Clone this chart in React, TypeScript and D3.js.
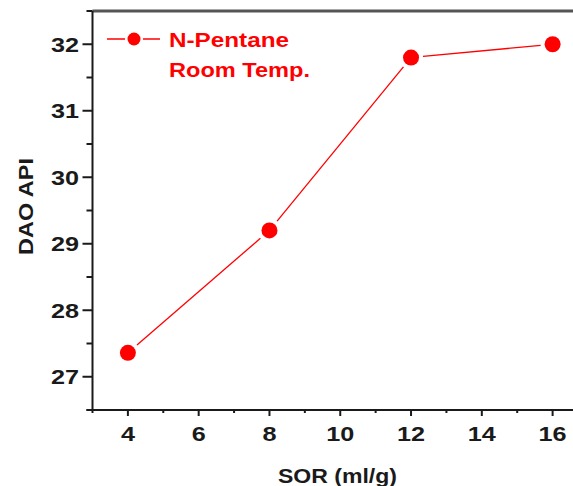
import React, { useEffect, useRef } from "react";
import * as d3 from "d3";

// SOR (ml/g) vs DAO API, N-Pentane at room temperature
const sor = [4, 8, 12, 16];
const daoApi = [27.36, 29.2, 31.8, 32.0];
const xTicks = [4, 6, 8, 10, 12, 14, 16];
const yTicks = [27, 28, 29, 30, 31, 32];
const seriesName = ["N-Pentane", "Room Temp."];

const W = 573;
const H = 486;
const RED = "#ff0000";
const INK = "#1a1a1a";
const FONT = "'Liberation Sans', Arial, sans-serif";

const App = () => {
  const svgRef = useRef(null);

  useEffect(() => {
    const svg = d3.select(svgRef.current);
    svg.selectAll("*").remove();

    const x = d3.scaleLinear().domain([3, 17]).range([92.5, 588]);
    const y = d3.scaleLinear().domain([26.5, 32.5]).range([410, 11]);

    // top frame line
    svg
      .append("line")
      .attr("x1", x(3))
      .attr("x2", W)
      .attr("y1", y(32.5))
      .attr("y2", y(32.5))
      .attr("stroke", "#555")
      .attr("stroke-width", 3);

    // x axis
    const gx = svg.append("g");
    gx.append("line")
      .attr("x1", x(3) - 6)
      .attr("x2", W)
      .attr("y1", y(26.5))
      .attr("y2", y(26.5))
      .attr("stroke", INK)
      .attr("stroke-width", 2);
    d3.range(3, 17.01, 1).forEach((v) => {
      const major = xTicks.includes(v);
      gx.append("line")
        .attr("x1", x(v))
        .attr("x2", x(v))
        .attr("y1", y(26.5))
        .attr("y2", y(26.5) + (major ? 6 : 3))
        .attr("stroke", INK)
        .attr("stroke-width", 2);
    });
    xTicks.forEach((v) => {
      gx.append("text")
        .attr("transform", `translate(${x(v)},441) scale(1.2,1)`)
        .attr("text-anchor", "middle")
        .attr("font-family", FONT)
        .attr("font-weight", "bold")
        .attr("font-size", 21)
        .attr("fill", INK)
        .text(v);
    });

    // y axis
    const gy = svg.append("g");
    gy.append("line")
      .attr("x1", x(3))
      .attr("x2", x(3))
      .attr("y1", y(26.5))
      .attr("y2", y(32.5))
      .attr("stroke", INK)
      .attr("stroke-width", 2);
    d3.range(26.5, 32.51, 0.5).forEach((v) => {
      const major = yTicks.includes(v);
      gy.append("line")
        .attr("x1", x(3))
        .attr("x2", x(3) - (major ? 10 : 6))
        .attr("y1", y(v))
        .attr("y2", y(v))
        .attr("stroke", INK)
        .attr("stroke-width", 2);
    });
    yTicks.forEach((v) => {
      gy.append("text")
        .attr("transform", `translate(79,${y(v) + 7.5}) scale(1.2,1)`)
        .attr("text-anchor", "end")
        .attr("font-family", FONT)
        .attr("font-weight", "bold")
        .attr("font-size", 21)
        .attr("fill", INK)
        .text(v);
    });

    // axis titles
    svg
      .append("text")
      .attr("x", 337.5)
      .attr("y", 483)
      .attr("text-anchor", "middle")
      .attr("font-family", FONT)
      .attr("font-weight", "bold")
      .attr("font-size", 21)
      .attr("textLength", 119)
      .attr("lengthAdjust", "spacingAndGlyphs")
      .attr("fill", INK)
      .text("SOR (ml/g)");
    svg
      .append("text")
      .attr("transform", "translate(33,206.5) rotate(-90)")
      .attr("text-anchor", "middle")
      .attr("font-family", FONT)
      .attr("font-weight", "bold")
      .attr("font-size", 21)
      .attr("textLength", 97)
      .attr("lengthAdjust", "spacingAndGlyphs")
      .attr("fill", INK)
      .text("DAO API");

    // series: segments with gaps at markers
    const r = 8;
    const gap = r + 4;
    const pts = sor.map((s, i) => [x(s), y(daoApi[i])]);
    for (let i = 0; i < pts.length - 1; i++) {
      const [x1, y1] = pts[i];
      const [x2, y2] = pts[i + 1];
      const len = Math.hypot(x2 - x1, y2 - y1);
      const ux = (x2 - x1) / len;
      const uy = (y2 - y1) / len;
      svg
        .append("path")
        .attr(
          "d",
          d3.line()([
            [x1 + ux * gap, y1 + uy * gap],
            [x2 - ux * gap, y2 - uy * gap],
          ])
        )
        .attr("stroke", RED)
        .attr("stroke-width", 1.3)
        .attr("fill", "none");
    }
    svg
      .selectAll("circle.pt")
      .data(pts)
      .enter()
      .append("circle")
      .attr("class", "pt")
      .attr("cx", (d) => d[0])
      .attr("cy", (d) => d[1])
      .attr("r", r)
      .attr("fill", RED);

    // legend
    const lg = svg.append("g");
    const ly = 39;
    lg.append("line").attr("x1", 107).attr("x2", 125).attr("y1", ly).attr("y2", ly)
      .attr("stroke", RED).attr("stroke-width", 1.5);
    lg.append("line").attr("x1", 143).attr("x2", 160).attr("y1", ly).attr("y2", ly)
      .attr("stroke", RED).attr("stroke-width", 1.5);
    lg.append("circle").attr("cx", 134).attr("cy", ly).attr("r", 6.5).attr("fill", RED);
    seriesName.forEach((t, i) => {
      lg.append("text")
        .attr("x", 169)
        .attr("y", 47 + i * 30)
        .attr("font-family", FONT)
        .attr("font-weight", "bold")
        .attr("font-size", 21)
        .attr("textLength", i === 0 ? 120 : 141)
        .attr("lengthAdjust", "spacingAndGlyphs")
        .attr("fill", RED)
        .text(t);
    });
  }, []);

  return (
    <svg
      ref={svgRef}
      width={W}
      height={H}
      viewBox={`0 0 ${W} ${H}`}
      xmlns="http://www.w3.org/2000/svg"
      style={{ position: "absolute", left: 0, top: 0, background: "#fff" }}
    ></svg>
  );
};

export default App;
